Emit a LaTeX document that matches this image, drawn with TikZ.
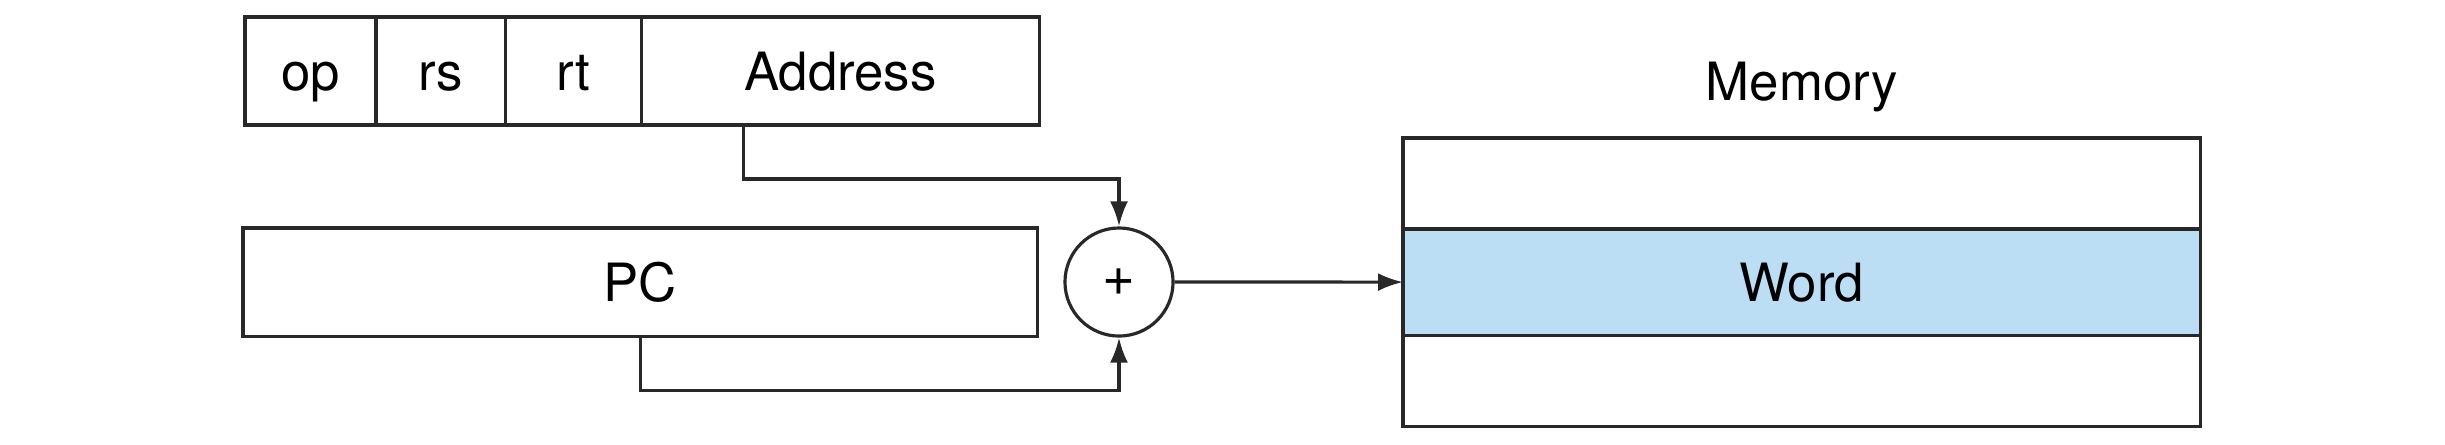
\documentclass[tikz,border=0pt]{standalone}
\usepackage{fontspec}
\setmainfont{TeX Gyre Heros}
\usetikzlibrary{positioning,arrows.meta}
\definecolor{wordblue}{RGB}{188,222,245}
\definecolor{inkgray}{RGB}{40,40,40}

\begin{document}
\begin{tikzpicture}[x=0.01cm,y=-0.01cm,>={Latex[length=2.5mm,width=1.8mm]},line width=0.9pt,draw=inkgray,
        field/.style={draw, inner sep=0pt, outer sep=0pt, minimum height=1.08cm, text height=10.8pt, text depth=0pt, font=\fontsize{15}{18}\selectfont},
        memrow/.style={draw, inner sep=0pt, outer sep=0pt, minimum width=7.97cm, text height=10.8pt, text depth=0pt, font=\fontsize{15}{18}\selectfont}]
        \useasboundingbox (0,0) rectangle (2445,444);
        % instruction fields
        \node (op) [field, minimum width=1.31cm, anchor=north west] at (245,17) {op};
        \node (rs) [field, minimum width=1.29cm, right=0pt of op] {rs};
        \node (rt) [field, minimum width=1.36cm, right=0pt of rs] {rt};
        \node (address) [field, minimum width=3.98cm, right=0pt of rt] {Address};
        \node (pc) [field, minimum width=7.94cm, anchor=north west] at (243,228) {PC};
        \node (add) [draw, circle, minimum size=1.08cm, inner sep=0pt, font=\fontsize{16}{18}\selectfont] at (1119,282) {+};
        % memory
        \node (mtop) [memrow, minimum height=0.91cm, anchor=north west] at (1403,138) {};
        \node (word) [memrow, fill=wordblue, minimum height=1.06cm, below=0pt of mtop] {Word};
        \node (mbot) [memrow, minimum height=0.91cm, below=0pt of word] {};
        \node (memory) [inner sep=0pt, above=0.24cm of mtop, font=\fontsize{15}{18}\selectfont] {Memory};
        \draw[->] ([xshift=-0.97cm]address.south) -- ++(0,54) -| (add.north);
        \draw[->] (pc.south) -- ++(0,54) -| (add.south);
        \draw[->] (add.east) -- (word.west);
    \end{tikzpicture}
\end{document}
